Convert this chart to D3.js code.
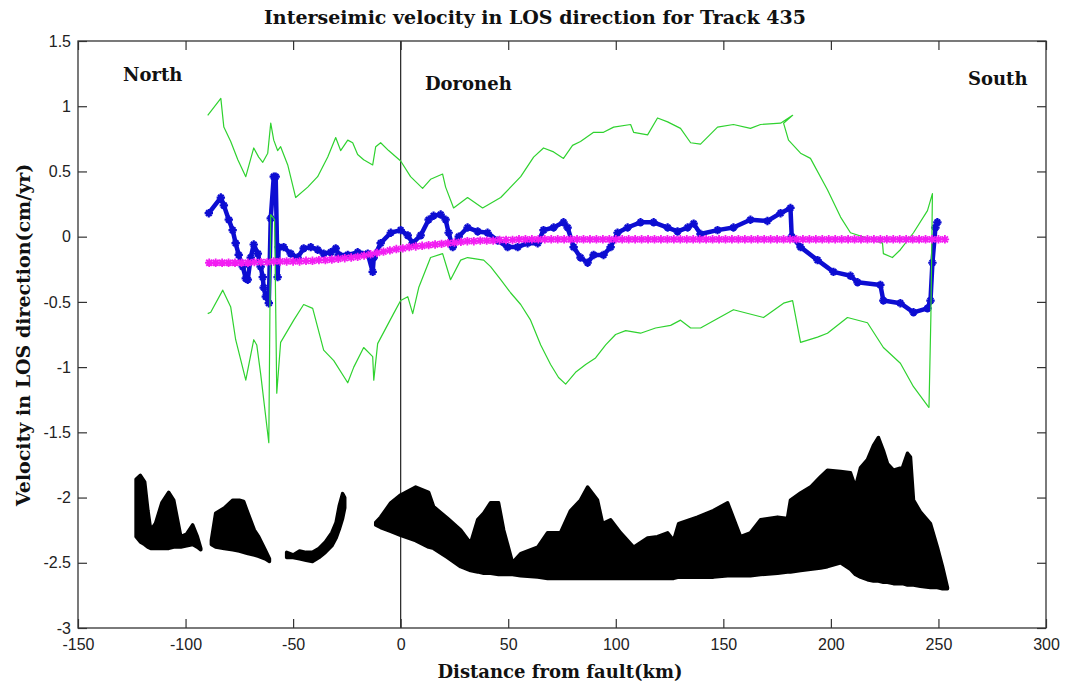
<!DOCTYPE html>
<html>
<head>
<meta charset="utf-8">
<script src="https://cdn.jsdelivr.net/npm/d3@7"></script>
<style>
  html, body { margin: 0; padding: 0; background: #fff; }
  svg { display: block; }
</style>
</head>
<body>
<svg id="chart" width="1067" height="687"></svg>
<script>
// ---- axis ticks ----
const xTicks = [-150, -100, -50, 0, 50, 100, 150, 200, 250, 300];
const xTickLabels = ["-150", "-100", "-50", "0", "50", "100", "150", "200", "250", "300"];
const yTicks = [-3, -2.5, -2, -1.5, -1, -0.5, 0, 0.5, 1, 1.5];
const yTickLabels = ["-3", "-2.5", "-2", "-1.5", "-1", "-0.5", "0", "0.5", "1", "1.5"];

// ---- observed LOS velocity (blue) ----
const losX = [-89.2, -83.6, -82.2, -79.9, -78.1, -76.7, -75.3, -73.4, -72.0, -71.1, -69.7, -68.3, -66.4, -65.1, -64.1, -63.7, -62.7, -61.3, -60.4, -59.0, -58.1, -57.2, -56.7, -54.4, -51.1, -47.9, -45.1, -41.8, -38.6, -35.8, -32.5, -30.2, -28.8, -24.6, -20.0, -15.3, -13.0, -12.5, -9.3, -4.6, 0, 3.3, 5.6, 9.3, 13.0, 15.3, 18.6, 20.9, 22.3, 24.2, 27.0, 31.1, 35.8, 40.4, 45.1, 49.7, 54.4, 59.0, 63.7, 66.4, 71.1, 75.7, 77.6, 80.4, 83.6, 86.9, 89.7, 94.3, 97.6, 100.8, 105.5, 111.5, 117.6, 124.1, 128.7, 133.4, 136.2, 139.4, 147.3, 154.7, 162.6, 170.5, 176.6, 181.2, 181.8, 185.9, 193.8, 201.2, 209.1, 212.4, 223.0, 224.4, 232.3, 238.4, 244.9, 246.3, 247.2, 248.6, 249.5];
const losV = [0.18, 0.30, 0.24, 0.13, 0.05, -0.05, -0.14, -0.23, -0.32, -0.33, -0.16, -0.06, -0.13, -0.23, -0.31, -0.39, -0.46, -0.51, 0.14, 0.46, 0.46, -0.31, -0.08, -0.08, -0.13, -0.16, -0.09, -0.08, -0.10, -0.13, -0.12, -0.09, -0.14, -0.14, -0.12, -0.13, -0.27, -0.16, -0.05, 0.03, 0.05, 0.01, -0.05, 0.01, 0.13, 0.16, 0.17, 0.13, 0.03, -0.08, 0.0, 0.07, 0.04, 0.03, -0.03, -0.08, -0.08, -0.05, -0.05, 0.05, 0.07, 0.11, 0.07, -0.08, -0.16, -0.20, -0.14, -0.14, -0.08, 0.03, 0.07, 0.11, 0.11, 0.07, 0.04, 0.07, 0.10, 0.02, 0.05, 0.07, 0.13, 0.12, 0.18, 0.22, 0.0, -0.08, -0.18, -0.27, -0.30, -0.35, -0.37, -0.49, -0.51, -0.58, -0.55, -0.49, -0.20, 0.07, 0.11];

// ---- uncertainty envelope (green) ----
const upperX = [-89.7, -83.6, -82.2, -79.0, -75.7, -72.0, -68.3, -66.0, -64.1, -61.8, -60.4, -59.0, -57.2, -55.8, -52.5, -48.8, -43.2, -38.6, -33.9, -30.2, -27.9, -24.6, -22.3, -20.0, -17.2, -13.0, -11.6, -9.3, -5.6, 0, 4.6, 10.2, 13.9, 19.5, 20.9, 24.6, 31.1, 38.1, 46.5, 55.8, 61.8, 66.4, 71.1, 75.7, 79.9, 83.6, 89.7, 94.3, 99.0, 106.9, 108.3, 114.8, 119.4, 124.1, 130.1, 134.8, 139.4, 147.3, 154.7, 162.6, 167.3, 176.6, 182.2, 178.0, 180.3, 185.9, 190.5, 198.4, 204.5, 209.1, 224.0, 224.4, 228.6, 232.3, 238.4, 244.9, 247.2, 246.5, 245.6];
const upperV = [0.93, 1.06, 0.84, 0.73, 0.59, 0.46, 0.68, 0.61, 0.57, 0.64, 0.87, 0.74, 0.66, 0.69, 0.55, 0.30, 0.38, 0.46, 0.61, 0.76, 0.66, 0.74, 0.72, 0.63, 0.59, 0.55, 0.69, 0.72, 0.66, 0.58, 0.46, 0.37, 0.44, 0.48, 0.38, 0.22, 0.30, 0.22, 0.30, 0.46, 0.61, 0.68, 0.65, 0.60, 0.70, 0.73, 0.80, 0.80, 0.84, 0.86, 0.80, 0.78, 0.91, 0.88, 0.83, 0.72, 0.71, 0.84, 0.86, 0.83, 0.86, 0.87, 0.93, 0.87, 0.74, 0.64, 0.60, 0.36, 0.15, 0.03, -0.05, -0.13, -0.16, -0.10, 0.03, 0.20, 0.33, -0.60, -1.31];
const lowerX = [-89.7, -88.3, -82.7, -79.0, -76.7, -72.0, -68.3, -66.9, -65.1, -61.3, -60.4, -58.6, -57.6, -55.8, -49.7, -45.1, -40.9, -35.8, -31.1, -24.6, -21.8, -17.2, -13.0, -12.5, -10.7, -3.3, 0, 3.3, 5.6, 8.4, 13.9, 19.5, 23.2, 27.9, 31.1, 38.6, 41.8, 46.5, 51.1, 55.8, 60.4, 65.1, 69.7, 73.4, 76.7, 81.3, 86.0, 90.6, 95.3, 99.9, 104.6, 111.5, 118.5, 125.5, 130.1, 134.8, 139.4, 154.7, 168.7, 178.0, 182.2, 185.9, 193.8, 198.4, 207.7, 217.0, 224.4, 232.3, 238.4, 245.6];
const lowerV = [-0.59, -0.58, -0.41, -0.54, -0.79, -1.10, -0.79, -0.83, -1.05, -1.58, 0.17, 0.13, -1.20, -0.81, -0.64, -0.52, -0.55, -0.87, -0.95, -1.12, -1.00, -0.85, -0.92, -1.10, -0.82, -0.59, -0.49, -0.46, -0.59, -0.39, -0.16, -0.13, -0.33, -0.18, -0.16, -0.18, -0.23, -0.33, -0.43, -0.52, -0.64, -0.83, -0.98, -1.08, -1.13, -1.04, -0.98, -0.93, -0.83, -0.75, -0.72, -0.74, -0.70, -0.68, -0.64, -0.70, -0.70, -0.56, -0.62, -0.51, -0.49, -0.81, -0.77, -0.74, -0.62, -0.66, -0.85, -0.97, -1.15, -1.31];

// ---- interseismic model (magenta) ----
const modelX = [-89, -86, -83, -80, -77, -74, -71, -68, -65, -62, -59, -56, -53, -50, -47, -44, -41, -38, -35, -32, -29, -26, -23, -20, -17, -14, -11, -8, -5, -2, 1, 4, 7, 10, 13, 16, 19, 22, 25, 28, 31, 34, 37, 40, 43, 46, 49, 52, 55, 58, 61, 64, 67, 70, 73, 76, 79, 82, 85, 88, 91, 94, 97, 100, 103, 106, 109, 112, 115, 118, 121, 124, 127, 130, 133, 136, 139, 142, 145, 148, 151, 154, 157, 160, 163, 166, 169, 172, 175, 178, 181, 184, 187, 190, 193, 196, 199, 202, 205, 208, 211, 214, 217, 220, 223, 226, 229, 232, 235, 238, 241, 244, 247, 250, 253];
const modelV = [-0.20, -0.20, -0.20, -0.20, -0.20, -0.20, -0.20, -0.195, -0.195, -0.195, -0.19, -0.19, -0.19, -0.19, -0.19, -0.185, -0.185, -0.18, -0.18, -0.175, -0.17, -0.165, -0.16, -0.155, -0.145, -0.135, -0.125, -0.115, -0.105, -0.095, -0.09, -0.08, -0.075, -0.07, -0.065, -0.06, -0.055, -0.05, -0.045, -0.04, -0.035, -0.035, -0.03, -0.03, -0.03, -0.025, -0.025, -0.025, -0.02, -0.02, -0.02, -0.02, -0.02, -0.02, -0.02, -0.02, -0.02, -0.02, -0.02, -0.02, -0.02, -0.02, -0.02, -0.02, -0.02, -0.02, -0.02, -0.02, -0.02, -0.02, -0.02, -0.02, -0.02, -0.02, -0.02, -0.02, -0.02, -0.02, -0.02, -0.02, -0.02, -0.02, -0.02, -0.02, -0.02, -0.02, -0.02, -0.02, -0.02, -0.02, -0.02, -0.02, -0.02, -0.02, -0.02, -0.02, -0.02, -0.02, -0.02, -0.02, -0.02, -0.02, -0.02, -0.02, -0.02, -0.02, -0.02, -0.02, -0.02, -0.02, -0.02, -0.02, -0.02, -0.02, -0.02];

// ---- scaled topography profile (black), four pieces ----
const topo1X = [-123, -121, -119, -117.5, -116.2, -114, -111, -107.8, -105.5, -102.2, -99.5, -96.7, -94.5, -92.9];
const topo1Top = [-1.86, -1.83, -1.88, -2.10, -2.25, -2.20, -2.04, -1.96, -2.02, -2.30, -2.28, -2.21, -2.30, -2.39];
const topo1Bot = [-2.30, -2.34, -2.36, -2.38, -2.39, -2.39, -2.39, -2.39, -2.38, -2.38, -2.37, -2.36, -2.38, -2.40];

const topo2X = [-88, -86, -82, -78, -75, -73, -71, -68, -66, -63, -61];
const topo2Top = [-2.33, -2.12, -2.08, -2.02, -2.02, -2.03, -2.12, -2.25, -2.30, -2.40, -2.47];
const topo2Bot = [-2.36, -2.38, -2.39, -2.40, -2.41, -2.42, -2.43, -2.44, -2.45, -2.47, -2.49];

const topo3X = [-53, -50, -47, -44, -41, -38, -35, -32, -30, -28.5, -27, -26];
const topo3Top = [-2.42, -2.44, -2.41, -2.42, -2.42, -2.39, -2.34, -2.27, -2.19, -2.06, -1.97, -2.00];
const topo3Bot = [-2.46, -2.46, -2.47, -2.48, -2.49, -2.46, -2.42, -2.37, -2.31, -2.24, -2.16, -2.08];

const topo4X = [-11.6, -9.3, -4.6, 0, 7, 13, 15.3, 21.8, 27.9, 32.5, 35.8, 38.6, 41.8, 45.5, 47.9, 52, 55.8, 63.7, 68.3, 74.3, 79, 83.6, 86.9, 91.5, 93.9, 97.6, 102.2, 108.3, 114.8, 119.4, 124.1, 126.9, 129.2, 138, 145.4, 152, 158, 162.6, 167.3, 175.2, 179.8, 181.2, 185.9, 190.5, 195.2, 198.4, 204.5, 209.1, 211.4, 213.8, 217, 219.8, 222.1, 224.4, 226.3, 229.1, 233.3, 235.6, 237, 238.4, 241.6, 246.3, 249.5, 251.9, 254.2];
const topo4Top = [-2.19, -2.15, -2.04, -1.98, -1.92, -1.96, -2.07, -2.16, -2.25, -2.35, -2.17, -2.12, -2.04, -2.04, -2.25, -2.50, -2.43, -2.38, -2.27, -2.27, -2.10, -2.02, -1.92, -2.02, -2.20, -2.17, -2.27, -2.38, -2.31, -2.30, -2.27, -2.33, -2.20, -2.15, -2.10, -2.04, -2.30, -2.27, -2.17, -2.15, -2.16, -2.02, -1.965, -1.92, -1.84, -1.79, -1.80, -1.81, -1.92, -1.77, -1.71, -1.60, -1.54, -1.64, -1.74, -1.79, -1.77, -1.66, -1.69, -2.02, -2.11, -2.20, -2.38, -2.53, -2.69];
const topo4Bot = [-2.21, -2.23, -2.26, -2.29, -2.33, -2.38, -2.39, -2.46, -2.53, -2.56, -2.57, -2.58, -2.58, -2.59, -2.59, -2.59, -2.60, -2.61, -2.62, -2.62, -2.62, -2.62, -2.62, -2.62, -2.62, -2.62, -2.62, -2.62, -2.62, -2.62, -2.62, -2.62, -2.61, -2.61, -2.61, -2.60, -2.60, -2.60, -2.59, -2.58, -2.57, -2.57, -2.56, -2.55, -2.54, -2.53, -2.50, -2.55, -2.59, -2.61, -2.63, -2.64, -2.64, -2.65, -2.65, -2.66, -2.66, -2.67, -2.67, -2.67, -2.68, -2.69, -2.69, -2.70, -2.70];

// ---- text ----
const titleText = "Interseimic velocity in LOS direction for Track 435";
const xLabelText = "Distance from fault(km)";
const yLabelText = "Velocity in LOS direction(cm/yr)";
const regionNames = ["North", "Doroneh", "South"];

// ---- layout ----
const svg = d3.select("#chart");
const plot = { left: 78, right: 1046, top: 41, bottom: 628 };
const x = d3.scaleLinear().domain([-150, 300]).range([plot.left, plot.right]);
const y = d3.scaleLinear().domain([-3, 1.5]).range([plot.bottom, plot.top]);

const serif = "'DejaVu Serif', 'Liberation Serif', serif";
const sans = "'Liberation Sans', Arial, sans-serif";
const axisColor = "#333";

const zip = (xs, ys) => xs.map((v, i) => [v, ys[i]]);
const zip3 = (xs, a, b) => xs.map((v, i) => ({ x: v, top: a[i], bot: b[i] }));

svg.append("defs").append("clipPath").attr("id", "plotClip")
  .append("rect").attr("x", plot.left).attr("y", plot.top)
  .attr("width", plot.right - plot.left).attr("height", plot.bottom - plot.top);

const g = svg.append("g").attr("clip-path", "url(#plotClip)");

// fault trace at x = 0
g.append("line")
  .attr("x1", x(0)).attr("x2", x(0))
  .attr("y1", plot.top).attr("y2", plot.bottom)
  .attr("stroke", "#222").attr("stroke-width", 1.2);

// topography
const area = d3.area()
  .x(d => x(d.x)).y0(d => y(d.bot)).y1(d => y(d.top));
[[topo1X, topo1Top, topo1Bot], [topo2X, topo2Top, topo2Bot],
 [topo3X, topo3Top, topo3Bot], [topo4X, topo4Top, topo4Bot]].forEach(s => {
  g.append("path").datum(zip3(s[0], s[1], s[2]))
    .attr("d", area)
    .attr("fill", "#000").attr("stroke", "#000")
    .attr("stroke-width", 3.5).attr("stroke-linejoin", "round");
});

const line = d3.line().x(d => x(d[0])).y(d => y(d[1]));

// observed velocity
const blue = "#0d0dd2";
g.append("path").datum(zip(losX, losV)).attr("d", line)
  .attr("fill", "none").attr("stroke", blue).attr("stroke-width", 4.5)
  .attr("stroke-linejoin", "round").attr("stroke-linecap", "round");
g.append("g").selectAll("path").data(zip(losX, losV)).join("path")
  .attr("transform", d => `translate(${x(d[0])},${y(d[1])})`)
  .attr("d", "M-4.2,0H4.2M0,-4.2V4.2M-2.8,-2.8L2.8,2.8M-2.8,2.8L2.8,-2.8")
  .attr("stroke", blue).attr("stroke-width", 2.2).attr("fill", "none");

// envelope
const green = "#2fd22f";
[[upperX, upperV], [lowerX, lowerV]].forEach(s => {
  g.append("path").datum(zip(s[0], s[1])).attr("d", line)
    .attr("fill", "none").attr("stroke", green).attr("stroke-width", 1.2)
    .attr("stroke-linejoin", "round");
});

// model
const magenta = "#f21ef2";
g.append("path").datum(zip(modelX, modelV)).attr("d", line)
  .attr("fill", "none").attr("stroke", magenta).attr("stroke-width", 2);
g.append("g").selectAll("path").data(zip(modelX, modelV)).join("path")
  .attr("transform", d => `translate(${x(d[0])},${y(d[1])})`)
  .attr("d", "M-4.2,0H4.2M0,-4.2V4.2M-3,-3L3,3M-3,3L3,-3")
  .attr("stroke", magenta).attr("stroke-width", 1.8).attr("fill", "none");

// axes (ticks point inwards on all four sides)
const tickLen = 9;
const xAxis = d3.axisBottom(x).tickValues(xTicks)
  .tickFormat((d, i) => xTickLabels[i]).tickSizeInner(-tickLen).tickSizeOuter(0).tickPadding(11);
const yAxis = d3.axisLeft(y).tickValues(yTicks)
  .tickFormat((d, i) => yTickLabels[i]).tickSizeInner(-tickLen).tickSizeOuter(0).tickPadding(7);
const xTop = d3.axisTop(x).tickValues(xTicks).tickFormat("").tickSizeInner(-tickLen).tickSizeOuter(0);
const yRight = d3.axisRight(y).tickValues(yTicks).tickFormat("").tickSizeInner(-tickLen).tickSizeOuter(0);

function styleAxis(sel) {
  sel.select(".domain").remove();
  sel.selectAll("line").attr("stroke", axisColor).attr("stroke-width", 1.2);
  sel.selectAll("text").attr("fill", "#222").style("font-family", sans).style("font-size", "16px");
}
svg.append("g").attr("transform", `translate(0,${plot.bottom})`).call(xAxis).call(styleAxis);
svg.append("g").attr("transform", `translate(${plot.left},0)`).call(yAxis).call(styleAxis);
svg.append("g").attr("transform", `translate(0,${plot.top})`).call(xTop).call(styleAxis);
svg.append("g").attr("transform", `translate(${plot.right},0)`).call(yRight).call(styleAxis);

svg.append("rect")
  .attr("x", plot.left).attr("y", plot.top)
  .attr("width", plot.right - plot.left).attr("height", plot.bottom - plot.top)
  .attr("fill", "none").attr("stroke", axisColor).attr("stroke-width", 1.3);

// titles
svg.append("text").attr("x", 535).attr("y", 24).attr("text-anchor", "middle")
  .style("font-family", serif).style("font-size", "19px").style("font-weight", "bold")
  .attr("fill", "#111").text(titleText);
svg.append("text").attr("x", 560).attr("y", 678).attr("text-anchor", "middle")
  .style("font-family", serif).style("font-size", "18px").style("font-weight", "bold")
  .attr("fill", "#111").text(xLabelText);
svg.append("text").attr("transform", "translate(30,335) rotate(-90)").attr("text-anchor", "middle")
  .style("font-family", serif).style("font-size", "19px").style("font-weight", "bold")
  .attr("fill", "#111").text(yLabelText);

// region annotations
const regionPos = [[123, 81], [425, 90], [968, 85]];
regionNames.forEach((t, i) => {
  svg.append("text").attr("x", regionPos[i][0]).attr("y", regionPos[i][1])
    .style("font-family", serif).style("font-size", "18px").style("font-weight", "bold")
    .attr("fill", "#111").text(t);
});
</script>
</body>
</html>
